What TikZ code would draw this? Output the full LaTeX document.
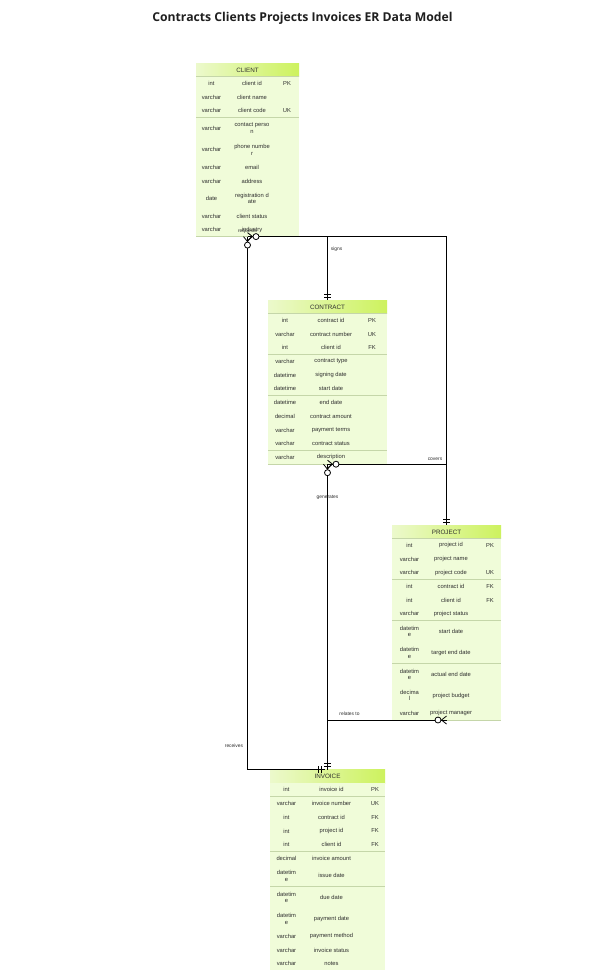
\documentclass[tikz,border=0pt]{standalone}
\usepackage{fontspec}
\setmainfont{Liberation Sans}
\newfontfamily\titlefont{Open Sans}
\definecolor{headL}{HTML}{ECF9CC}
\definecolor{headR}{HTML}{CDF25E}
\definecolor{rowbg}{HTML}{F0FCD9}
\definecolor{rowln}{HTML}{C5D6A9}
\definecolor{txtgray}{HTML}{2E2E2E}
\tikzset{
  headfill/.style={left color=headL, right color=headR, draw=none},
  rowfill/.style={fill=rowbg, draw=none},
  rowline/.style={draw=rowln, line width=0.6pt},
  celltxt/.style={font=\fontsize{5.8}{6.5}\selectfont, text=txtgray, inner sep=0pt, align=center},
  headtxt/.style={font=\fontsize{6.3}{7}\selectfont, text=txtgray, inner sep=0pt},
  conn/.style={draw=black, line width=0.8pt},
  elabel/.style={font=\fontsize{4.9}{5.5}\selectfont, text=txtgray, inner sep=0pt},
  zmany/.pic={\draw[conn] (0,-4) -- (5,0) -- (0,4); \draw[conn, fill=white] (8.5,0) circle (3);},
  onemark/.pic={\draw[conn] (3,-3.5) -- (3,3.5) (6,-3.5) -- (6,3.5);}
}
\newcommand{\ertable}[5]{%
  \gdef\tL{#2}\gdef\tR{#3}\gdef\tTop{#4}%
  \pgfmathsetmacro\hdbot{#4+13.5}\global\let\cury\hdbot
  \path[headfill] (#2,#4) rectangle (#3,\hdbot);
  \draw[rowline] (#2,\hdbot) -- (#3,\hdbot);
  \node[headtxt] (#1-head) at ({(#2+#3)/2},{#4+6.9}) {#5};
}
\newcommand{\tabrow}[5]{%
  \pgfmathsetmacro\rowny{\cury+#2}%
  \pgfmathsetmacro\rowmy{\cury+#2/2}%
  \path[rowfill] (\tL,\cury) rectangle (\tR,\rowny);
  \draw[rowline] (\tL,\rowny) -- (\tR,\rowny);
  \node[celltxt] (#1-t) at (\cT,\rowmy) {#3};
  \node[celltxt] (#1-n) at (\cN,\rowmy) {#4};
  \node[celltxt] (#1-k) at (\cK,\rowmy) {#5};
  \global\let\cury\rowny
}
\newcommand{\tabend}[1]{%
  \pgfmathsetmacro\tabw{\tR-\tL}\pgfmathsetmacro\tabh{\cury-\tTop}%
  \node[inner sep=0pt, outer sep=0pt, minimum width=\tabw pt, minimum height=\tabh pt, anchor=north west] (#1) at (\tL,\tTop) {};
}
\def\rs{13.7}
\def\rd{21.4}
\begin{document}
\begin{tikzpicture}[x=1pt,y=-1pt]
\useasboundingbox (0,0) rectangle (605,970);
\fill[white] (0,0) rectangle (605,970);
\node[font=\titlefont\bfseries\fontsize{12.2}{14}\selectfont, text=black!88] (title) at (302.5,18) {Contracts Clients Projects Invoices ER Data Model};

% CLIENT
\def\cT{211.5}\def\cN{252}\def\cK{287}
\ertable{client}{196}{299}{63}{CLIENT}
\tabrow{cl1}{\rs}{int}{client id}{PK}
\tabrow{cl2}{\rs}{varchar}{client name}{}
\tabrow{cl3}{\rs}{varchar}{client code}{UK}
\tabrow{cl4}{\rd}{varchar}{contact perso\\n}{}
\tabrow{cl5}{\rd}{varchar}{phone numbe\\r}{}
\tabrow{cl6}{\rs}{varchar}{email}{}
\tabrow{cl7}{\rs}{varchar}{address}{}
\tabrow{cl8}{\rd}{date}{registration d\\ate}{}
\tabrow{cl9}{\rs}{varchar}{client status}{}
\tabrow{cl10}{\rs}{varchar}{industry}{}
\tabend{client}

% CONTRACT
\def\cT{285}\def\cN{331}\def\cK{372}
\ertable{contract}{268}{387}{300}{CONTRACT}
\tabrow{co1}{\rs}{int}{contract id}{PK}
\tabrow{co2}{\rs}{varchar}{contract number}{UK}
\tabrow{co3}{\rs}{int}{client id}{FK}
\tabrow{co4}{\rs}{varchar}{contract type}{}
\tabrow{co5}{\rs}{datetime}{signing date}{}
\tabrow{co6}{\rs}{datetime}{start date}{}
\tabrow{co7}{\rs}{datetime}{end date}{}
\tabrow{co8}{\rs}{decimal}{contract amount}{}
\tabrow{co9}{\rs}{varchar}{payment terms}{}
\tabrow{co10}{\rs}{varchar}{contract status}{}
\tabrow{co11}{\rs}{varchar}{description}{}
\tabend{contract}

% PROJECT
\def\cT{409.5}\def\cN{451}\def\cK{490}
\ertable{project}{392}{501}{525}{PROJECT}
\tabrow{pr1}{\rs}{int}{project id}{PK}
\tabrow{pr2}{\rs}{varchar}{project name}{}
\tabrow{pr3}{\rs}{varchar}{project code}{UK}
\tabrow{pr4}{\rs}{int}{contract id}{FK}
\tabrow{pr5}{\rs}{int}{client id}{FK}
\tabrow{pr6}{\rs}{varchar}{project status}{}
\tabrow{pr7}{\rd}{datetim\\e}{start date}{}
\tabrow{pr8}{\rd}{datetim\\e}{target end date}{}
\tabrow{pr9}{\rd}{datetim\\e}{actual end date}{}
\tabrow{pr10}{\rd}{decima\\l}{project budget}{}
\tabrow{pr11}{\rs}{varchar}{project manager}{}
\tabend{project}

% INVOICE
\def\cT{286.5}\def\cN{331.5}\def\cK{375}
\ertable{invoice}{270}{385}{769.5}{INVOICE}
\tabrow{in1}{\rs}{int}{invoice id}{PK}
\tabrow{in2}{\rs}{varchar}{invoice number}{UK}
\tabrow{in3}{\rs}{int}{contract id}{FK}
\tabrow{in4}{\rs}{int}{project id}{FK}
\tabrow{in5}{\rs}{int}{client id}{FK}
\tabrow{in6}{\rs}{decimal}{invoice amount}{}
\tabrow{in7}{\rd}{datetim\\e}{issue date}{}
\tabrow{in8}{\rd}{datetim\\e}{due date}{}
\tabrow{in9}{\rd}{datetim\\e}{payment date}{}
\tabrow{in10}{\rs}{varchar}{payment method}{}
\tabrow{in11}{\rs}{varchar}{invoice status}{}
\tabrow{in12}{\rs}{varchar}{notes}{}
\tabend{invoice}

% connectors
\coordinate (invrecv) at ([xshift=-3pt]invoice.north);
\draw[conn] (client.south) -| (contract.north);
\draw[conn] (client.south) -| (project.north);
\draw[conn] (client.south) |- (invrecv);
\draw[conn] (contract.south) -- (invoice.north);
\draw[conn] (contract.south) -| (project.north);
\draw[conn] (project.south) -| (invoice.north);

% markers
\pic[rotate=-90] at (client.south) {zmany};
\pic at (client.south) {zmany};
\pic[rotate=-90] at (contract.south) {zmany};
\pic at (contract.south) {zmany};
\pic[rotate=180] at (project.south) {zmany};
\pic[rotate=90] at (contract.north) {onemark};
\pic[rotate=90] at (project.north) {onemark};
\pic[rotate=90] at (invoice.north) {onemark};
\pic[rotate=180] at (invrecv) {onemark};

% labels
\node[elabel] (lsigns) at (336.5,249) {signs};
\node[elabel] (lreq) at (247.5,231) {requests};
\node[elabel] (lcovers) at (435,459.5) {covers};
\node[elabel] (lgen) at (327.5,497) {generates};
\node[elabel] (lrel) at (349.5,714) {relates to};
\node[elabel] (lrecv) at (234,746) {receives};
\end{tikzpicture}
\end{document}
